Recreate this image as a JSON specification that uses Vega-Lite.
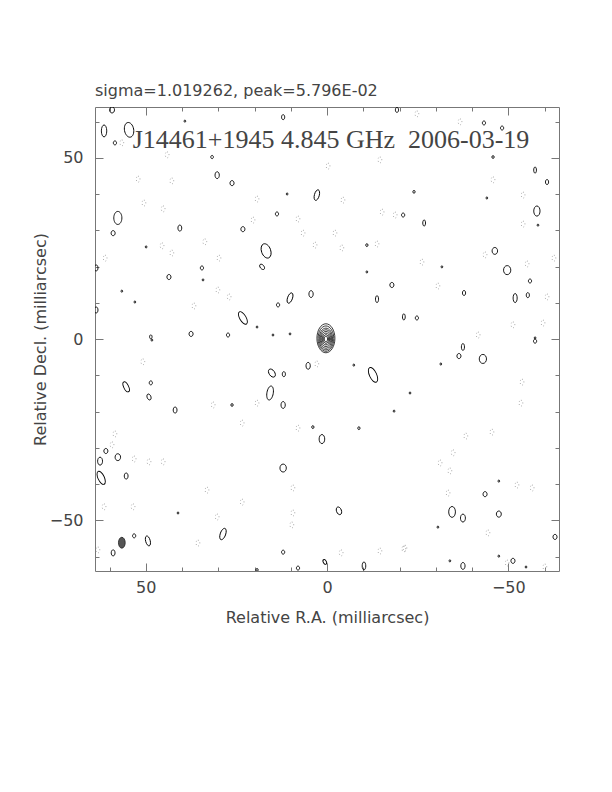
{
  "$schema": "https://vega.github.io/schema/vega-lite/v6.json",
  "width": 464,
  "height": 464,
  "autosize": {"type": "none"},
  "padding": {"left": 95, "top": 107, "right": 53, "bottom": 221},
  "background": "white",
  "title": {
    "text": "sigma=1.019262, peak=5.796E-02",
    "anchor": "start",
    "frame": "group",
    "offset": -5,
    "baseline": "alphabetic",
    "font": "DejaVu Sans",
    "fontSize": 16,
    "fontWeight": "normal",
    "color": "#444"
  },
  "config": {
    "view": {"stroke": "#777", "strokeWidth": 1},
    "axis": {
      "domain": false,
      "grid": false,
      "tickColor": "#777",
      "tickWidth": 1,
      "labelFont": "DejaVu Sans",
      "labelFontSize": 16,
      "labelColor": "#444",
      "labelOverlap": false,
      "labelFlush": false,
      "titleFont": "DejaVu Sans",
      "titleFontSize": 16,
      "titleFontWeight": "normal",
      "titleColor": "#444"
    }
  },
  "datasets": {
    "pos": [
      {"ra": 59.3, "dec": 63.2, "maj": 1.7, "kind": "e1", "pa": 0},
      {"ra": 61.5, "dec": 57.4, "maj": 3.3, "kind": "e3", "pa": 0},
      {"ra": 54.6, "dec": 57.7, "maj": 4.1, "kind": "e2", "pa": -10},
      {"ra": 58.5, "dec": 54.1, "maj": 1.1, "kind": "e1", "pa": 0},
      {"ra": 31.7, "dec": 50.2, "maj": 0.9, "kind": "e1", "pa": 0},
      {"ra": 30.3, "dec": 45.2, "maj": 1.9, "kind": "e2", "pa": 0},
      {"ra": 26.2, "dec": 43.0, "maj": 1.4, "kind": "e1", "pa": 0},
      {"ra": 57.7, "dec": 33.4, "maj": 3.6, "kind": "e2", "pa": 0},
      {"ra": 59.0, "dec": 29.2, "maj": 1.4, "kind": "e1", "pa": 0},
      {"ra": 40.6, "dec": 30.6, "maj": 1.7, "kind": "e2", "pa": 0},
      {"ra": 23.2, "dec": 30.3, "maj": 1.4, "kind": "e1", "pa": 0},
      {"ra": 49.9, "dec": 25.4, "maj": 0.6, "kind": "e1", "pa": 0},
      {"ra": 34.5, "dec": 19.6, "maj": 1.1, "kind": "e1", "pa": 0},
      {"ra": 43.6, "dec": 17.1, "maj": 1.4, "kind": "e1", "pa": 0},
      {"ra": 63.7, "dec": 19.6, "maj": 1.7, "kind": "e2", "pa": 0},
      {"ra": 23.2, "dec": 5.8, "maj": 3.9, "kind": "e3", "pa": -30},
      {"ra": 63.7, "dec": 8.0, "maj": 1.7, "kind": "e2", "pa": 0},
      {"ra": 37.5, "dec": 1.4, "maj": 1.4, "kind": "e1", "pa": 0},
      {"ra": 27.3, "dec": 1.1, "maj": 1.1, "kind": "e1", "pa": 0},
      {"ra": 48.6, "dec": 0.6, "maj": 1.1, "kind": "e2", "pa": 0},
      {"ra": 12.1, "dec": 61.2, "maj": 1.4, "kind": "e2", "pa": 0},
      {"ra": -19.3, "dec": 63.2, "maj": 1.4, "kind": "e2", "pa": 0},
      {"ra": 2.8, "dec": 39.7, "maj": 3.0, "kind": "e3", "pa": 15},
      {"ra": 11.0, "dec": 40.0, "maj": 0.6, "kind": "e1", "pa": 0},
      {"ra": 13.8, "dec": 34.5, "maj": 1.1, "kind": "e1", "pa": 0},
      {"ra": -11.0, "dec": 25.9, "maj": 0.8, "kind": "e1", "pa": 0},
      {"ra": -21.0, "dec": 34.2, "maj": 1.1, "kind": "e1", "pa": 0},
      {"ra": 16.8, "dec": 24.3, "maj": 4.1, "kind": "e2", "pa": -20},
      {"ra": 17.9, "dec": 19.9, "maj": 1.7, "kind": "e2", "pa": -40},
      {"ra": -11.0, "dec": 18.5, "maj": 0.6, "kind": "e1", "pa": 0},
      {"ra": -17.9, "dec": 14.9, "maj": 1.4, "kind": "e1", "pa": 0},
      {"ra": 10.2, "dec": 11.3, "maj": 3.0, "kind": "e3", "pa": 20},
      {"ra": 4.4, "dec": 12.4, "maj": 1.9, "kind": "e2", "pa": 0},
      {"ra": 13.5, "dec": 9.4, "maj": 1.1, "kind": "e1", "pa": 0},
      {"ra": -13.8, "dec": 11.0, "maj": 1.9, "kind": "e3", "pa": 0},
      {"ra": -21.2, "dec": 6.1, "maj": 1.7, "kind": "e3", "pa": 0},
      {"ra": 19.3, "dec": 3.3, "maj": 0.6, "kind": "e1", "pa": 0},
      {"ra": 14.9, "dec": 1.1, "maj": 0.6, "kind": "e1", "pa": 0},
      {"ra": 10.2, "dec": 1.4, "maj": 0.6, "kind": "e1", "pa": 0},
      {"ra": -43.3, "dec": 59.6, "maj": 1.1, "kind": "e1", "pa": 0},
      {"ra": -48.3, "dec": 58.2, "maj": 1.1, "kind": "e1", "pa": 0},
      {"ra": -45.8, "dec": 50.2, "maj": 0.8, "kind": "e1", "pa": 0},
      {"ra": -57.4, "dec": 46.6, "maj": 1.7, "kind": "e3", "pa": 0},
      {"ra": -60.7, "dec": 43.3, "maj": 1.4, "kind": "e2", "pa": 0},
      {"ra": -24.0, "dec": 40.6, "maj": 0.8, "kind": "e1", "pa": 0},
      {"ra": -44.1, "dec": 38.9, "maj": 0.6, "kind": "e1", "pa": 0},
      {"ra": -57.9, "dec": 35.3, "maj": 2.8, "kind": "e2", "pa": 0},
      {"ra": -58.2, "dec": 31.4, "maj": 0.6, "kind": "e1", "pa": 0},
      {"ra": -26.8, "dec": 32.0, "maj": 1.7, "kind": "e3", "pa": 0},
      {"ra": -46.3, "dec": 24.3, "maj": 1.9, "kind": "e1", "pa": 0},
      {"ra": -49.7, "dec": 19.0, "maj": 2.5, "kind": "e1", "pa": 0},
      {"ra": -56.0, "dec": 16.0, "maj": 1.1, "kind": "e1", "pa": 0},
      {"ra": -31.7, "dec": 19.9, "maj": 0.6, "kind": "e1", "pa": 0},
      {"ra": -37.8, "dec": 12.7, "maj": 1.4, "kind": "e2", "pa": 0},
      {"ra": -51.9, "dec": 11.3, "maj": 2.5, "kind": "e3", "pa": 0},
      {"ra": -55.4, "dec": 12.1, "maj": 1.4, "kind": "e2", "pa": 0},
      {"ra": -24.8, "dec": 5.8, "maj": 1.1, "kind": "e1", "pa": 0},
      {"ra": -57.4, "dec": 0.3, "maj": 0.6, "kind": "e1", "pa": 0},
      {"ra": 48.3, "dec": -0.3, "maj": 0.6, "kind": "e1", "pa": 0},
      {"ra": 55.4, "dec": -13.2, "maj": 3.0, "kind": "e3", "pa": -25},
      {"ra": 48.6, "dec": -12.1, "maj": 1.1, "kind": "e1", "pa": 0},
      {"ra": 49.1, "dec": -16.0, "maj": 1.7, "kind": "e2", "pa": -20},
      {"ra": 41.9, "dec": -19.6, "maj": 1.7, "kind": "e2", "pa": 0},
      {"ra": 26.2, "dec": -18.2, "maj": 0.8, "kind": "e1", "pa": 0},
      {"ra": 61.0, "dec": -30.9, "maj": 1.4, "kind": "e1", "pa": 0},
      {"ra": 62.6, "dec": -33.7, "maj": 2.2, "kind": "e2", "pa": 0},
      {"ra": 57.7, "dec": -32.6, "maj": 1.9, "kind": "e1", "pa": 0},
      {"ra": 62.3, "dec": -38.3, "maj": 3.9, "kind": "e3", "pa": -25},
      {"ra": 55.4, "dec": -37.8, "maj": 1.7, "kind": "e2", "pa": 0},
      {"ra": 41.1, "dec": -48.0, "maj": 0.6, "kind": "e1", "pa": 0},
      {"ra": 28.7, "dec": -53.8, "maj": 3.3, "kind": "e3", "pa": 20},
      {"ra": 53.2, "dec": -54.3, "maj": 1.1, "kind": "e1", "pa": 0},
      {"ra": 49.4, "dec": -55.7, "maj": 2.8, "kind": "e3", "pa": -15},
      {"ra": 59.0, "dec": -59.0, "maj": 1.7, "kind": "e2", "pa": 0},
      {"ra": 15.2, "dec": -9.4, "maj": 2.5, "kind": "e2", "pa": -35},
      {"ra": 11.9, "dec": -9.7, "maj": 1.4, "kind": "e2", "pa": 0},
      {"ra": 5.2, "dec": -7.4, "maj": 1.9, "kind": "e2", "pa": 0},
      {"ra": -7.4, "dec": -7.2, "maj": 0.6, "kind": "e1", "pa": 0},
      {"ra": -12.7, "dec": -9.9, "maj": 4.4, "kind": "e3", "pa": -25},
      {"ra": 15.7, "dec": -14.9, "maj": 3.9, "kind": "e3", "pa": 10},
      {"ra": 12.1, "dec": -18.2, "maj": 1.9, "kind": "e2", "pa": 0},
      {"ra": -18.5, "dec": -19.9, "maj": 0.6, "kind": "e1", "pa": 0},
      {"ra": 3.9, "dec": -24.3, "maj": 0.8, "kind": "e1", "pa": 0},
      {"ra": 1.4, "dec": -27.6, "maj": 2.5, "kind": "e2", "pa": 0},
      {"ra": -8.8, "dec": -24.6, "maj": 0.8, "kind": "e1", "pa": 0},
      {"ra": 12.1, "dec": -35.6, "maj": 2.2, "kind": "e1", "pa": 0},
      {"ra": -3.3, "dec": -47.4, "maj": 2.2, "kind": "e2", "pa": -20},
      {"ra": 12.1, "dec": -58.8, "maj": 1.1, "kind": "e1", "pa": 0},
      {"ra": 0.6, "dec": -61.5, "maj": 1.4, "kind": "e2", "pa": -30},
      {"ra": 8.0, "dec": -63.2, "maj": 1.1, "kind": "e1", "pa": 0},
      {"ra": -10.2, "dec": -62.6, "maj": 2.2, "kind": "e3", "pa": 0},
      {"ra": 19.3, "dec": -63.7, "maj": 0.8, "kind": "e1", "pa": 0},
      {"ra": -57.4, "dec": -0.6, "maj": 1.1, "kind": "e1", "pa": 0},
      {"ra": -37.5, "dec": -2.2, "maj": 1.9, "kind": "e3", "pa": 0},
      {"ra": -36.4, "dec": -4.7, "maj": 1.4, "kind": "e1", "pa": 0},
      {"ra": -43.0, "dec": -5.5, "maj": 2.5, "kind": "e1", "pa": 0},
      {"ra": -31.4, "dec": -6.9, "maj": 0.6, "kind": "e1", "pa": 0},
      {"ra": -22.9, "dec": -14.9, "maj": 0.6, "kind": "e1", "pa": 0},
      {"ra": -47.4, "dec": -39.2, "maj": 0.6, "kind": "e1", "pa": 0},
      {"ra": -43.6, "dec": -42.8, "maj": 1.4, "kind": "e1", "pa": 0},
      {"ra": -34.5, "dec": -47.7, "maj": 3.0, "kind": "e2", "pa": 0},
      {"ra": -37.5, "dec": -49.4, "maj": 2.2, "kind": "e2", "pa": 0},
      {"ra": -47.4, "dec": -48.3, "maj": 1.7, "kind": "e1", "pa": 0},
      {"ra": -30.6, "dec": -51.9, "maj": 0.6, "kind": "e1", "pa": 0},
      {"ra": -62.9, "dec": -54.6, "maj": 1.4, "kind": "e1", "pa": 0},
      {"ra": -47.4, "dec": -59.9, "maj": 0.6, "kind": "e1", "pa": 0},
      {"ra": -51.3, "dec": -61.2, "maj": 1.4, "kind": "e1", "pa": 0},
      {"ra": -33.9, "dec": -61.2, "maj": 0.6, "kind": "e1", "pa": 0},
      {"ra": -54.9, "dec": -62.9, "maj": 0.6, "kind": "e1", "pa": 0},
      {"ra": -37.5, "dec": -62.6, "maj": 1.9, "kind": "e2", "pa": 0},
      {"ra": 39.2, "dec": 60.1, "maj": 0.6, "kind": "e1", "pa": 0},
      {"ra": 56.6, "dec": 13.2, "maj": 0.6, "kind": "e1", "pa": 0},
      {"ra": 53.0, "dec": 10.2, "maj": 0.6, "kind": "e1", "pa": 0},
      {"ra": 34.2, "dec": 16.3, "maj": 0.6, "kind": "e1", "pa": 0}
    ],
    "neg": [
      {"ra": 56.6, "dec": 54.1}, {"ra": 44.1, "dec": 50.8}, {"ra": 52.1, "dec": 44.1},
      {"ra": 42.8, "dec": 43.6}, {"ra": 50.5, "dec": 37.5}, {"ra": 45.2, "dec": 35.9},
      {"ra": 45.5, "dec": 25.7}, {"ra": 42.8, "dec": 23.7}, {"ra": 33.7, "dec": 26.8},
      {"ra": 29.8, "dec": 22.3}, {"ra": 61.2, "dec": 22.3}, {"ra": 30.1, "dec": 13.5},
      {"ra": 27.0, "dec": 11.6}, {"ra": 36.7, "dec": 9.1}, {"ra": -14.6, "dec": 49.4},
      {"ra": -0.3, "dec": 47.7}, {"ra": -4.4, "dec": 38.3}, {"ra": 19.3, "dec": 38.6},
      {"ra": 20.4, "dec": 32.8}, {"ra": 8.0, "dec": 33.1}, {"ra": 6.6, "dec": 29.2},
      {"ra": 3.3, "dec": 25.9}, {"ra": -2.2, "dec": 29.2}, {"ra": -4.1, "dec": 25.1},
      {"ra": -13.8, "dec": 26.2}, {"ra": -15.2, "dec": 35.0}, {"ra": -18.8, "dec": 34.2},
      {"ra": -24.8, "dec": 62.1}, {"ra": -36.7, "dec": 59.9}, {"ra": -45.8, "dec": 43.9},
      {"ra": -54.1, "dec": 39.7}, {"ra": -54.1, "dec": 31.7}, {"ra": -43.6, "dec": 23.2},
      {"ra": -62.6, "dec": 22.3}, {"ra": -55.2, "dec": 20.7}, {"ra": -26.2, "dec": 21.2},
      {"ra": -30.6, "dec": 14.6}, {"ra": -60.7, "dec": 11.6}, {"ra": -59.6, "dec": 4.4},
      {"ra": -51.3, "dec": 3.9}, {"ra": -41.7, "dec": 1.1}, {"ra": 50.8, "dec": -6.3},
      {"ra": 31.4, "dec": -18.2}, {"ra": 23.4, "dec": -23.2}, {"ra": 58.5, "dec": -26.2},
      {"ra": 59.3, "dec": -29.2}, {"ra": 53.2, "dec": -33.1}, {"ra": 49.1, "dec": -33.9},
      {"ra": 45.2, "dec": -33.9}, {"ra": 61.5, "dec": -46.3}, {"ra": 53.5, "dec": -46.3},
      {"ra": 33.1, "dec": -41.7}, {"ra": 23.4, "dec": -45.0}, {"ra": 30.3, "dec": -49.1},
      {"ra": 63.2, "dec": -58.2}, {"ra": 35.6, "dec": -56.3}, {"ra": 2.8, "dec": -6.9},
      {"ra": 19.3, "dec": -17.7}, {"ra": 8.0, "dec": -24.6}, {"ra": 9.4, "dec": -41.1},
      {"ra": 9.4, "dec": -48.0}, {"ra": 9.7, "dec": -51.3}, {"ra": -3.9, "dec": -59.0},
      {"ra": -14.6, "dec": -58.5}, {"ra": -21.2, "dec": -57.9}, {"ra": -53.8, "dec": -11.9},
      {"ra": -53.5, "dec": -17.7}, {"ra": -45.5, "dec": -25.7}, {"ra": -38.3, "dec": -26.8},
      {"ra": -34.8, "dec": -31.4}, {"ra": -31.2, "dec": -34.2}, {"ra": -33.9, "dec": -36.4},
      {"ra": -52.4, "dec": -40.3}, {"ra": -56.6, "dec": -41.1}, {"ra": -33.4, "dec": -42.5},
      {"ra": -44.4, "dec": -53.5}, {"ra": -21.5, "dec": -57.7}, {"ra": -49.7, "dec": -61.8},
      {"ra": -60.1, "dec": -62.9}
    ],
    "core": [
      {"ra": 0.3, "dec": 0.2, "maj": 8.0, "kind": "e2", "pa": 0},
      {"ra": 0.3, "dec": 0.1, "maj": 7.0, "kind": "e2", "pa": 0},
      {"ra": 0.3, "dec": 0.0, "maj": 6.0, "kind": "e2", "pa": 0},
      {"ra": 0.3, "dec": 0.0, "maj": 5.1, "kind": "e2", "pa": 0},
      {"ra": 0.3, "dec": 0.0, "maj": 4.2, "kind": "e2", "pa": 0},
      {"ra": 0.3, "dec": 0.0, "maj": 3.3, "kind": "e2", "pa": 0},
      {"ra": 0.3, "dec": 0.0, "maj": 2.4, "kind": "e2", "pa": 0},
      {"ra": 0.3, "dec": 0.0, "maj": 1.5, "kind": "e2", "pa": 0}
    ],
    "beam": [
      {"ra": 56.6, "dec": -56.2, "maj": 3.0, "kind": "e2", "pa": 0}
    ],
    "label": [
      {"ra": -1.1, "dec": 54.9, "text": "J14461+1945 4.845 GHz \u00a02006-03-19"}
    ]
  },
  "layer": [
    {
      "data": {"name": "pos"},
      "mark": {"type": "point", "filled": false, "stroke": "#000", "strokeWidth": 0.9, "opacity": 1, "clip": true},
      "encoding": {
        "x": {
          "field": "ra", "type": "quantitative",
          "scale": {"domain": [64, -64], "nice": false, "zero": false},
          "axis": {
            "orient": "bottom",
            "values": [-60, -50, -40, -30, -20, -10, 0, 10, 20, 30, 40, 50, 60],
            "tickSize": {"condition": {"test": "datum.value % 50 === 0", "value": -8}, "value": -4},
            "labelExpr": "datum.value % 50 === 0 ? datum.label : ''",
            "labelPadding": 16,
            "title": "Relative R.A. (milliarcsec)",
            "titlePadding": 10
          }
        },
        "y": {
          "field": "dec", "type": "quantitative",
          "scale": {"domain": [-64, 64], "nice": false, "zero": false},
          "axis": {
            "orient": "left",
            "values": [-60, -50, -40, -30, -20, -10, 0, 10, 20, 30, 40, 50, 60],
            "tickSize": {"condition": {"test": "datum.value % 50 === 0", "value": -8}, "value": -4},
            "labelExpr": "datum.value % 50 === 0 ? datum.label : ''",
            "labelPadding": 20,
            "title": "Relative Decl. (milliarcsec)",
            "titlePadding": 1
          }
        },
        "size": {"field": "maj", "type": "quantitative", "scale": {"type": "pow", "exponent": 2, "domain": [0, 10], "range": [0, 1314]}, "legend": null},
        "shape": {"field": "kind", "type": "nominal", "scale": {"domain": ["e1", "e2", "e3"], "range": ["M0,-1A0.8,1 0 1,1 0,1A0.8,1 0 1,1 0,-1Z", "M0,-1A0.62,1 0 1,1 0,1A0.62,1 0 1,1 0,-1Z", "M0,-1A0.45,1 0 1,1 0,1A0.45,1 0 1,1 0,-1Z"]}, "legend": null},
        "angle": {"field": "pa", "type": "quantitative", "scale": null}
      }
    },
    {
      "data": {"name": "neg"},
      "mark": {"type": "point", "filled": false, "stroke": "#999", "strokeWidth": 1, "strokeDash": [0.8, 2.4], "size": 36, "shape": "M0,-1A0.62,1 0 1,1 0,1A0.62,1 0 1,1 0,-1Z", "opacity": 1, "clip": true},
      "encoding": {
        "x": {
          "field": "ra", "type": "quantitative",
          "axis": {
            "orient": "top",
            "values": [-60, -50, -40, -30, -20, -10, 0, 10, 20, 30, 40, 50, 60],
            "tickSize": {"condition": {"test": "datum.value % 50 === 0", "value": -8}, "value": -4},
            "labels": false,
            "title": null
          }
        },
        "y": {
          "field": "dec", "type": "quantitative",
          "axis": {
            "orient": "right",
            "values": [-60, -50, -40, -30, -20, -10, 0, 10, 20, 30, 40, 50, 60],
            "tickSize": {"condition": {"test": "datum.value % 50 === 0", "value": -8}, "value": -4},
            "labels": false,
            "title": null
          }
        }
      }
    },
    {
      "data": {"name": "core"},
      "mark": {"type": "point", "filled": false, "stroke": "#222", "strokeWidth": 0.9, "opacity": 1, "clip": true},
      "encoding": {
        "x": {"field": "ra", "type": "quantitative", "axis": null},
        "y": {"field": "dec", "type": "quantitative", "axis": null},
        "size": {"field": "maj", "type": "quantitative", "scale": {"type": "pow", "exponent": 2, "domain": [0, 10], "range": [0, 1314]}, "legend": null},
        "shape": {"field": "kind", "type": "nominal", "scale": {"domain": ["e1", "e2", "e3"], "range": ["M0,-1A0.8,1 0 1,1 0,1A0.8,1 0 1,1 0,-1Z", "M0,-1A0.62,1 0 1,1 0,1A0.62,1 0 1,1 0,-1Z", "M0,-1A0.45,1 0 1,1 0,1A0.45,1 0 1,1 0,-1Z"]}, "legend": null}
      }
    },
    {
      "data": {"name": "beam"},
      "mark": {"type": "point", "filled": true, "fill": "#555", "stroke": "#222", "strokeWidth": 0.8, "opacity": 1, "clip": true},
      "encoding": {
        "x": {"field": "ra", "type": "quantitative", "axis": null},
        "y": {"field": "dec", "type": "quantitative", "axis": null},
        "size": {"field": "maj", "type": "quantitative", "scale": {"type": "pow", "exponent": 2, "domain": [0, 10], "range": [0, 1314]}, "legend": null},
        "shape": {"field": "kind", "type": "nominal", "scale": {"domain": ["e1", "e2", "e3"], "range": ["M0,-1A0.8,1 0 1,1 0,1A0.8,1 0 1,1 0,-1Z", "M0,-1A0.62,1 0 1,1 0,1A0.62,1 0 1,1 0,-1Z", "M0,-1A0.45,1 0 1,1 0,1A0.45,1 0 1,1 0,-1Z"]}, "legend": null}
      }
    },
    {
      "data": {"name": "label"},
      "mark": {"type": "text", "font": "Liberation Serif", "fontSize": 26, "color": "#444", "align": "center", "baseline": "middle"},
      "encoding": {
        "x": {"field": "ra", "type": "quantitative", "axis": null},
        "y": {"field": "dec", "type": "quantitative", "axis": null},
        "text": {"field": "text", "type": "nominal"}
      }
    }
  ],
  "resolve": {"axis": {"x": "independent", "y": "independent"}}
}
